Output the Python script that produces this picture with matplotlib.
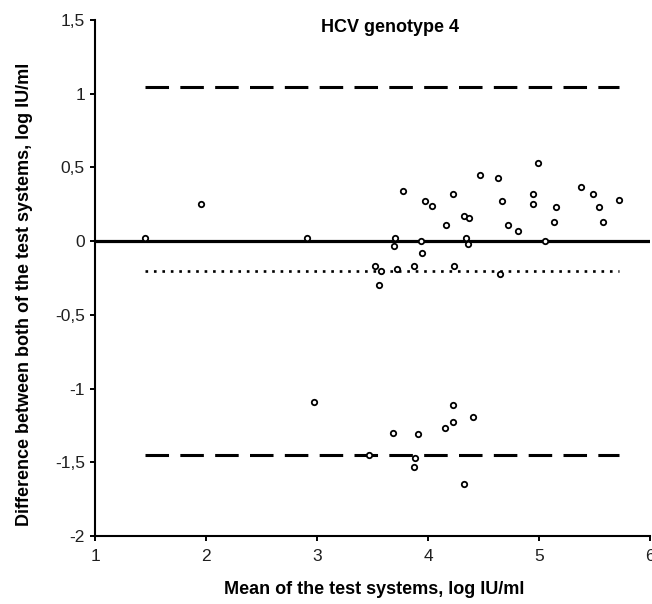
import matplotlib
matplotlib.use("Agg")
import matplotlib.pyplot as plt

plt.rcParams['font.family'] = ['Liberation Sans', 'DejaVu Sans']

# Bland-Altman data: mean of the two test systems vs difference (log IU/ml)
mean_vals = [1.45, 1.95, 2.91,
             3.77, 3.97, 4.03, 4.22, 4.47, 4.63, 4.66, 4.99, 4.94, 4.94,
             5.15, 5.13, 5.38, 5.48, 5.54, 5.57, 5.72, 4.16, 4.32, 4.37,
             4.72, 4.81, 3.70, 3.69, 3.93, 3.94, 4.34, 4.36, 5.05, 3.52,
             3.57, 3.56, 3.72, 3.87, 4.23, 4.65,
             2.97, 3.47, 3.68, 3.91, 3.88, 3.87, 4.15, 4.22, 4.22, 4.40, 4.32]
diff_vals = [0.02, 0.25, 0.02,
             0.34, 0.27, 0.24, 0.32, 0.45, 0.43, 0.27, 0.53, 0.32, 0.25,
             0.23, 0.13, 0.37, 0.32, 0.23, 0.13, 0.28, 0.11, 0.17, 0.16,
             0.11, 0.07, 0.02, -0.03, 0.00, -0.08, 0.02, -0.02, 0.00, -0.17,
             -0.20, -0.30, -0.19, -0.17, -0.17, -0.22,
             -1.09, -1.45, -1.30, -1.31, -1.47, -1.53, -1.27, -1.23, -1.11, -1.19, -1.65]

mean_diff = -0.204
upper_loa = 1.048
lower_loa = -1.448

x_ticks = [1, 2, 3, 4, 5, 6]
x_tick_labels = ['1', '2', '3', '4', '5', '6']
y_ticks = [-2, -1.5, -1, -0.5, 0, 0.5, 1, 1.5]
y_tick_labels = ['-2', '-1,5', '-1', '-0,5', '0', '0,5', '1', '1,5']

title = 'HCV genotype 4'
x_label = 'Mean of the test systems, log IU/ml'
y_label = 'Difference between both of the test systems, log IU/ml'

W, H = 652, 604
fig = plt.figure(figsize=(W / 100, H / 100), dpi=100)
left, right, top, bottom = 95.3, 650.3, 20, 536
ax = fig.add_axes([left / W, 1 - bottom / H, (right - left) / W, (bottom - top) / H])

x0, x1 = min(mean_vals), max(mean_vals)
ax.axhline(0, color='black', lw=2.3, zorder=2)
ax.plot([x0, x1], [upper_loa, upper_loa], color='black', lw=2.2,
        dashes=(7.7, 3.7), dash_capstyle='butt', zorder=2)
ax.plot([x0, x1], [lower_loa, lower_loa], color='black', lw=2.2,
        dashes=(7.7, 3.7), dash_capstyle='butt', zorder=2)
ax.plot([x0, x1], [mean_diff, mean_diff], color='black', lw=1.9,
        dashes=(1, 2.2), dash_capstyle='butt', zorder=2)

ax.plot(mean_vals, diff_vals, linestyle='none', marker='o', ms=3.9,
        mfc='white', mec='black', mew=1.3, zorder=3)

ax.set_xlim(1, 6)
ax.set_ylim(-2, 1.5)
ax.set_xticks(x_ticks)
ax.set_xticklabels(x_tick_labels)
ax.set_yticks(y_ticks)
ax.set_yticklabels(y_tick_labels)

for s in ['top', 'right']:
    ax.spines[s].set_visible(False)
for s in ['left', 'bottom']:
    ax.spines[s].set_linewidth(1.5)
    ax.spines[s].set_color('black')
ax.tick_params(axis='both', direction='out', length=3.5, width=1.4,
               labelsize=12.5, colors='black', labelcolor='#1f1f1f', pad=4)
ax.tick_params(axis='x', pad=6)

fig.text(390 / W, 1 - 27.5 / H, title, ha='center', va='center',
         fontsize=13, fontweight='bold', color='black')
fig.text(374.5 / W, 1 - 589 / H, x_label, ha='center', va='center',
         fontsize=13, fontweight='bold', color='black')
fig.text(25 / W, 1 - 294 / H, y_label, ha='center', va='center', rotation=90,
         fontsize=13, fontweight='bold', color='black')

fig.savefig('out.png', dpi=100)
